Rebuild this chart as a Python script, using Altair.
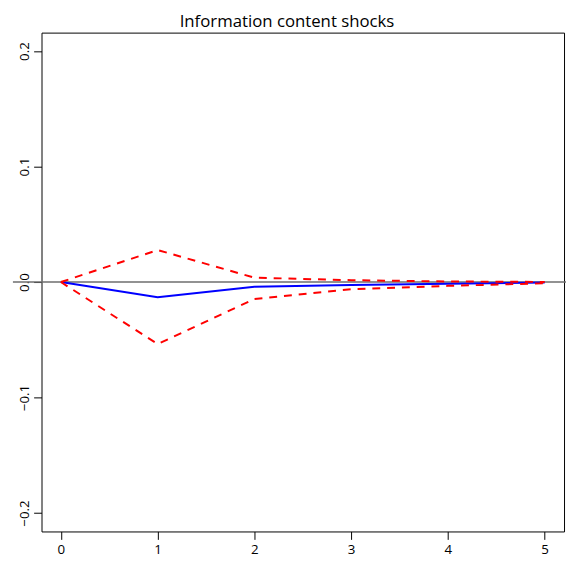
import altair as alt
import pandas as pd

# ---- data ----
steps = [0, 1, 2, 3, 4, 5]
irf = [0.0, -0.0131, -0.0040, -0.0026, -0.0014, -0.0004]
upper = [0.0, 0.0277, 0.0038, 0.0016, 0.0005, 0.0001]
lower = [0.0, -0.0537, -0.0147, -0.0062, -0.0033, -0.0011]
y_ticks = [-0.2, -0.1, 0.0, 0.1, 0.2]
title_text = ["Information content shocks"]

FONT = "Open Sans"
W, H = 530, 506

df = pd.DataFrame({"step": steps, "irf": irf, "upper": upper, "lower": lower})
bands = df.melt(id_vars="step", value_vars=["upper", "lower"],
                var_name="band", value_name="value")
zero_df = pd.DataFrame({"y": [0.0]})
title_df = pd.DataFrame({"t": title_text})

xs = alt.Scale(domain=[-0.2, 5.2], nice=False, zero=False)
ys = alt.Scale(domain=[-0.216, 0.216], nice=False, zero=False)

xaxis = alt.Axis(values=steps, format="d", tickSize=8, labelPadding=3,
                 domain=False, grid=False, labelFontSize=13.5, labelFont=FONT,
                 labelColor="black", tickColor="black", title=None)
yaxis = alt.Axis(values=y_ticks, format=".1f", tickSize=8, labelPadding=2,
                 labelAngle=270, labelAlign="center", labelBaseline="bottom",
                 domain=False, grid=False, labelFontSize=13.5, labelFont=FONT,
                 labelColor="black", tickColor="black", title=None)

zero = alt.Chart(zero_df).mark_rule(color="#6e6e6e", strokeWidth=1.5, clip=False).encode(
    y=alt.Y("y:Q", scale=ys, axis=yaxis),
    x=alt.value(-29),
    x2=alt.value(W + 3),
)

blue = alt.Chart(df).mark_line(color="#0000FF", strokeWidth=2).encode(
    x=alt.X("step:Q", scale=xs, axis=xaxis),
    y=alt.Y("irf:Q", scale=ys, axis=yaxis),
)

red = alt.Chart(bands).mark_line(color="#FF0000", strokeWidth=2, strokeDash=[8, 7]).encode(
    x=alt.X("step:Q", scale=xs, axis=xaxis),
    y=alt.Y("value:Q", scale=ys, axis=yaxis),
    detail="band:N",
)

title = alt.Chart(title_df).mark_text(
    font=FONT, fontSize=17, color="black", align="center", baseline="alphabetic"
).encode(
    text="t:N",
    x=alt.value(W / 2 - 16),
    y=alt.value(-6),
)

chart = alt.layer(zero, blue, red, title).properties(
    width=W,
    height=H,
    autosize="none",
    padding={"left": 34, "top": 21, "right": 2, "bottom": 27},
).configure_view(stroke="black", strokeWidth=1)

chart.save("out.html", embed_options={"renderer": "svg", "actions": False})
